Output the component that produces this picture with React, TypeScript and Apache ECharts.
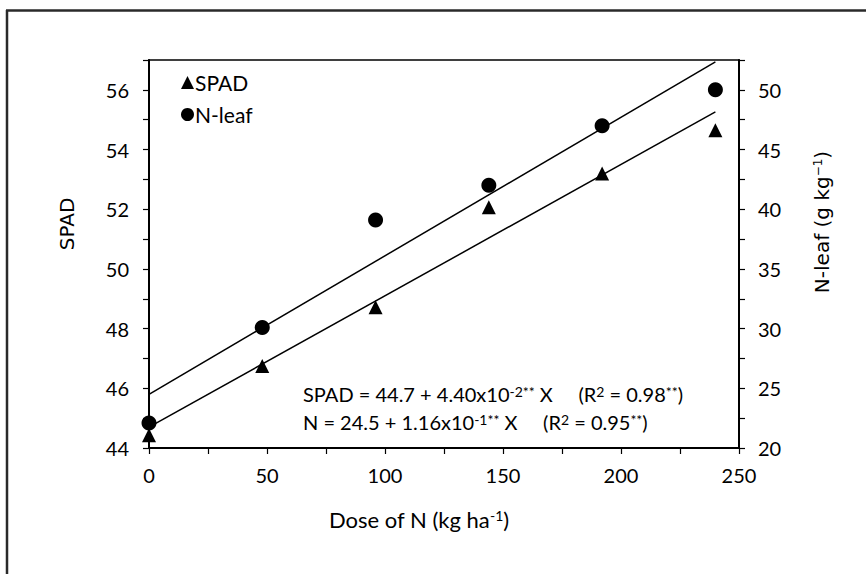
import React, { useEffect, useRef } from "react";
import * as echarts from "echarts";

// ---- data ----
const doses = [0, 48, 96, 144, 192, 240];
const spadValues = [44.43, 46.75, 48.72, 52.07, 53.2, 54.65];
const nLeafValues = [22.1, 30.1, 39.1, 42.0, 47.0, 50.0];
// regression coefficients [intercept, slope]
const spadFit = [44.7, 0.044];
const nFit = [24.5, 0.116];
const fitRange = [0, 240];
const seriesNames = ["SPAD", "N-leaf"];
const xTickLabels = [0, 50, 100, 150, 200, 250];
const leftTickLabels = [44, 46, 48, 50, 52, 54, 56];
const rightTickLabels = [20, 25, 30, 35, 40, 45, 50];

const FONT = "Lato";
const TITLE_FONT = "DejaVu Sans";

export default function App() {
  const ref = useRef<HTMLDivElement>(null);
  useEffect(() => {
    if (!ref.current) return;
    const chart = echarts.init(ref.current, undefined, { renderer: "svg" });
    const fitLine = (c: number[]) => fitRange.map((x) => [x, c[0] + c[1] * x]);
    const sup = { fontSize: 14, verticalAlign: "top", fontFamily: FONT, color: "#000" };
    const base = { fontSize: 20, fontFamily: FONT, color: "#000" };
    const tickLabel = { fontSize: 20, fontFamily: FONT, color: "#000" };
    chart.setOption({
      animation: false,
      backgroundColor: "#fff",
      grid: {
        left: 149,
        top: 60,
        right: 127,
        bottom: 126,
        show: true,
        borderColor: "#000",
        borderWidth: 1.5,
      },
      legend: {
        data: seriesNames,
        orient: "vertical",
        left: 176,
        top: 67,
        itemWidth: 13,
        itemHeight: 13,
        itemGap: 11,
        textStyle: { fontSize: 21, fontFamily: FONT, color: "#000", padding: [0, 0, 0, -4] },
      },
      xAxis: {
        type: "value",
        min: 0,
        max: 250,
        interval: 25,
        axisLine: { lineStyle: { color: "#000", width: 2 } },
        axisTick: { show: true, length: 6, lineStyle: { color: "#000", width: 1.2 } },
        splitLine: { show: false },
        axisLabel: {
          margin: 17,
          ...tickLabel,
          formatter: (v: number) => (xTickLabels.includes(v) ? String(v) : ""),
        },
      },
      yAxis: [
        {
          type: "value",
          min: 44,
          max: 57,
          interval: 1,
          axisLine: { show: true, lineStyle: { color: "#000", width: 2 } },
          axisTick: { show: true, length: 6, lineStyle: { color: "#000", width: 1.2 } },
          splitLine: { show: false },
          axisLabel: {
            margin: 20,
            ...tickLabel,
            formatter: (v: number) => (leftTickLabels.includes(v) ? String(v) : ""),
          },
        },
        {
          type: "value",
          position: "right",
          min: 20,
          max: 52.5,
          interval: 2.5,
          axisLine: { show: true, lineStyle: { color: "#000", width: 2 } },
          axisTick: { show: true, length: 6, lineStyle: { color: "#000", width: 1.2 } },
          splitLine: { show: false },
          axisLabel: {
            margin: 19,
            ...tickLabel,
            formatter: (v: number) => (rightTickLabels.includes(v) ? String(v) : ""),
          },
        },
      ],
      series: [
        {
          name: "SPAD fit",
          type: "line",
          yAxisIndex: 0,
          data: fitLine(spadFit),
          symbol: "none",
          lineStyle: { color: "#000", width: 1.5 },
          silent: true,
        },
        {
          name: "N fit",
          type: "line",
          yAxisIndex: 1,
          data: fitLine(nFit),
          symbol: "none",
          lineStyle: { color: "#000", width: 1.5 },
          silent: true,
        },
        {
          name: seriesNames[0],
          type: "scatter",
          yAxisIndex: 0,
          symbol: "triangle",
          symbolSize: 14,
          itemStyle: { color: "#000", opacity: 1 },
          data: doses.map((d, i) => [d, spadValues[i]]),
          z: 5,
        },
        {
          name: seriesNames[1],
          type: "scatter",
          yAxisIndex: 1,
          symbol: "circle",
          symbolSize: 15,
          itemStyle: { color: "#000", opacity: 1 },
          data: doses.map((d, i) => [d, nLeafValues[i]]),
          z: 5,
        },
      ],
      graphic: [
        { type: "line", shape: { x1: 7, y1: 10, x2: 7, y2: 574 }, style: { stroke: "#2a2a2a", lineWidth: 2.5 } },
        { type: "line", shape: { x1: 6, y1: 10.5, x2: 866, y2: 10.5 }, style: { stroke: "#2a2a2a", lineWidth: 2.5 } },
        {
          type: "text",
          left: 303,
          top: 384,
          style: {
            text: "{b|SPAD = 44.7 + 4.40x10}{s|-2**}{b| X     (R}{s|2}{b| = 0.98}{s|**}{b|)}",
            rich: { b: base, s: sup },
          },
        },
        {
          type: "text",
          left: 303,
          top: 412,
          style: {
            text: "{b|N = 24.5 + 1.16x10}{s|-1**}{b| X     (R}{s|2}{b| = 0.95}{s|**}{b|)}",
            rich: { b: base, s: sup },
          },
        },
        {
          type: "text",
          x: 419,
          y: 519,
          style: {
            text: "{b|Dose of N (kg ha}{s|-1}{b|)}",
            align: "center",
            verticalAlign: "middle",
            rich: { b: { fontSize: 22, fontFamily: FONT, color: "#000" }, s: { fontSize: 14, fontFamily: FONT, color: "#000", verticalAlign: "top" } },
          },
        },
        {
          type: "text",
          x: 67,
          y: 224,
          rotation: Math.PI / 2,
          style: {
            text: "SPAD",
            align: "center",
            verticalAlign: "middle",
            fontSize: 20,
            fontFamily: TITLE_FONT,
            fill: "#000",
          },
        },
        {
          type: "text",
          x: 822,
          y: 222,
          rotation: Math.PI / 2,
          style: {
            text: "{b|N-leaf (g kg}{s|\u22121}{b|)}",
            align: "center",
            verticalAlign: "middle",
            rich: { b: { fontSize: 20, fontFamily: TITLE_FONT, color: "#000" }, s: { fontSize: 12, fontFamily: TITLE_FONT, color: "#000", verticalAlign: "top" } },
          },
        },
      ],
    });
    return () => chart.dispose();
  }, []);
  return (
    <div
      ref={ref}
      style={{ position: "fixed", left: 0, top: 0, width: 866, height: 574, background: "#fff" }}
    />
  );
}
